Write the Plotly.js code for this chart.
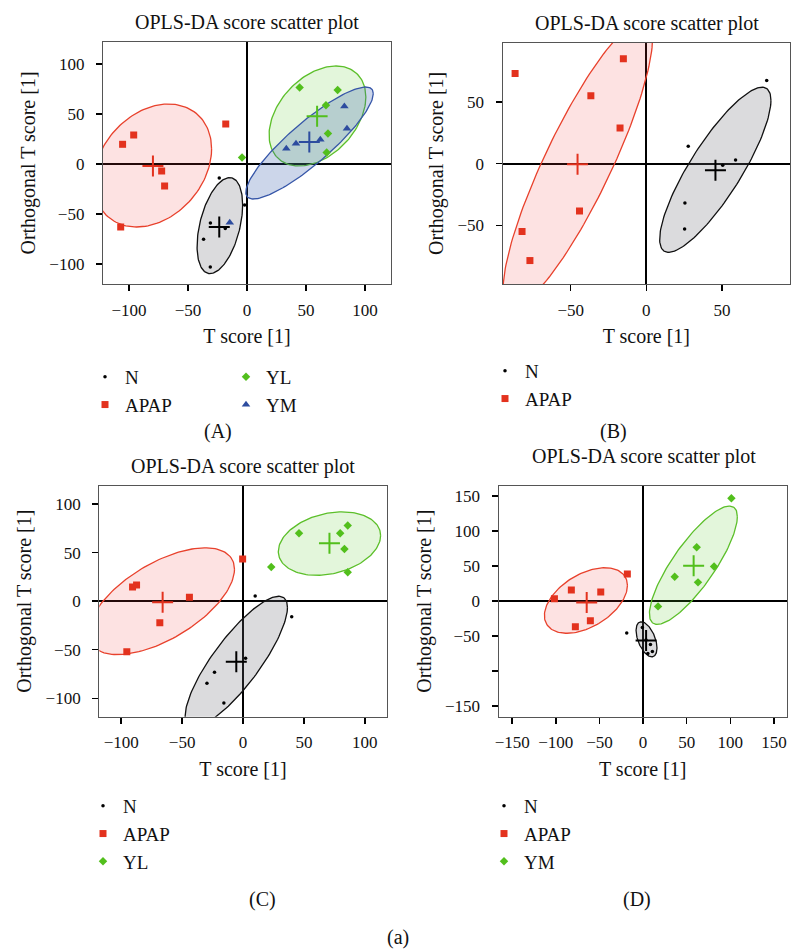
<!DOCTYPE html>
<html>
<head>
<meta charset="utf-8">
<script src="https://cdn.plot.ly/plotly-3.0.1.min.js"></script>
<style>html,body{margin:0;padding:0;background:#fff;}#chart{width:792px;height:951px;}</style>
</head>
<body>
<div id="chart"></div>
<script>
// ---------- DATA ----------
// Panel A
const A_N_x    = [-23.5, -2, -31, -18.4, -36.8, -31.1];
const A_N_y    = [-14, -41, -59, -64.6, -75.3, -103];
const A_APAP_x = [-105.4, -96, -72.3, -69.8, -18, -107];
const A_APAP_y = [19.7, 29, -7, -22, 40, -63];
const A_YL_x   = [-4.2, 44.6, 76.8, 66.9, 68.6, 67.5];
const A_YL_y   = [6.4, 76.4, 74, 58.7, 30.4, 11.4];
const A_YM_x   = [33.3, 41.5, 62.1, 82.5, 84.7, -14.6];
const A_YM_y   = [15.4, 20.4, 24.4, 57.7, 35.4, -58.6];
const A_centroid_x = [-23.5, -79.7, 59.4, 52.8];   // N, APAP, YL, YM
const A_centroid_y = [-63, -2, 47.8, 22];
// ellipse params: [centerX, centerY, halfWidthX, halfHeightY, correlation]
const A_ell_N    = [-23, -61.6, 19.3, 48, 0.43];
const A_ell_APAP = [-80, -1.5, 50, 61.5, 0.27];
const A_ell_YL   = [59.7, 48, 41, 50, 0.38];
const A_ell_YM   = [53, 21, 54, 56, 0.88];

// Panel B
const B_N_x    = [79.6, 27.7, 59, 50.5, 25.5, 25.3];
const B_N_y    = [67.3, 14, 3, -1.4, -32, -53];
const B_APAP_x = [-86.8, -15.2, -36.7, -17.4, -44.2, -82.2, -77];
const B_APAP_y = [73, 84.9, 54.9, 28.9, -38.4, -55, -78.6];
const B_centroid_x = [45.7, -45.5];   // N, APAP
const B_centroid_y = [-5.4, -0.5];
const B_ell_N    = [45.6, -5, 36.8, 66.9, 0.84];
const B_ell_APAP = [-45.3, 0, 49.4, 116.6, 0.87];

// Panel C
const C_N_x    = [10, 40, 2.1, -23.4, -29.6, -15.7];
const C_N_y    = [5.4, -16, -58.9, -73.3, -84.6, -104.8];
const C_APAP_x = [-90.7, -87.4, -44, -68.3, -95.4, -0.3];
const C_APAP_y = [14.7, 16.8, 4, -22.3, -52, 43.5];
const C_YL_x   = [46, 79.8, 86, 83.3, 86, 23.2];
const C_YL_y   = [70, 70, 78, 53.8, 29.8, 35.3];
const C_centroid_x = [-5.5, -66, 71];   // N, APAP, YL
const C_centroid_y = [-62.4, -1, 59.6];
const C_ell_N    = [-5.5, -62.3, 42, 67.4, 0.83];
const C_ell_APAP = [-67, 0, 60, 55, 0.6];
const C_ell_YL   = [71, 59.4, 42, 32.7, 0.25];

// Panel D
const D_N_x    = [-18.7, -0.8, 3.4, 8.5, 10.7, 5.5];
const D_N_y    = [-45.7, -37.6, -55.7, -62, -72, -75];
const D_APAP_x = [-101.6, -82.2, -48.5, -18, -60.4, -77.6];
const D_APAP_y = [3.3, 15.7, 12.9, 38.6, -28, -36.7];
const D_YM_x   = [101.3, 61.5, 36.3, 81.4, 63, 17.2];
const D_YM_y   = [147, 77, 34.8, 49.5, 26.7, -7.6];
const D_centroid_x = [3.5, -64.6, 58];   // N, APAP, YM
const D_centroid_y = [-56.5, -2, 50.5];
const D_ell_N    = [4, -54.6, 12, 25, -0.5];
const D_ell_APAP = [-65.5, 0.8, 47.6, 46.8, 0.46];
const D_ell_YM   = [57.7, 51.2, 50.4, 84.5, 0.82];

const D_yticks     = [150, 100, 50, 0, -50, -100, -150];
const D_yticktext  = ['150', '100', '50', '0', '\u221250', '', '\u2212150'];

// ---------- STYLES ----------
const FONT = 'Liberation Serif, Times New Roman, serif';
const RED = '#e3321e', GREEN = '#52bf1c', BLUE = '#2d4c9f', BLACK = '#000';
const ST = {
  N:    {sym: 'circle', size: 3.5, color: BLACK, line: '#111', fill: 'rgba(110,110,120,0.25)'},
  APAP: {sym: 'square', size: 7, color: RED, line: '#e8412c', fill: 'rgba(240,60,60,0.15)'},
  YL:   {sym: 'diamond', size: 6.5, color: GREEN, line: '#5cbf2a', fill: 'rgba(90,200,40,0.17)'},
  YM:   {sym: 'triangle-up', size: 7.5, color: BLUE, line: '#3656a8', fill: 'rgba(50,90,170,0.25)'}
};

function ellipse(p, n) {
  n = n || 160;
  const [cx, cy, sx, sy, r] = p;
  const k = Math.sqrt(1 - r * r);
  const xs = [], ys = [];
  for (let i = 0; i <= n; i++) {
    const t = 2 * Math.PI * i / n;
    xs.push(cx + sx * Math.cos(t));
    ys.push(cy + sy * (r * Math.cos(t) + k * Math.sin(t)));
  }
  return {xs, ys};
}

const traces = [];
function addEllipse(p, st, xa, ya) {
  const e = ellipse(p);
  traces.push({type: 'scatter', mode: 'lines', x: e.xs, y: e.ys, fill: 'toself',
    fillcolor: st.fill, line: {color: st.line, width: 1.3}, xaxis: xa, yaxis: ya,
    showlegend: false, hoverinfo: 'skip'});
}
function addPoints(name, xs, ys, st, xa, ya, legend, rank) {
  traces.push({type: 'scatter', mode: 'markers', name: name, x: xs, y: ys, xaxis: xa, yaxis: ya,
    marker: {symbol: st.sym, size: st.size, color: st.color, line: {width: 0}},
    legend: legend, legendrank: rank, showlegend: true, cliponaxis: true});
}
function addCentroids(xs, ys, colors, xa, ya) {
  for (let i = 0; i < xs.length; i++) {
    traces.push({type: 'scatter', mode: 'markers', x: [xs[i]], y: [ys[i]], xaxis: xa, yaxis: ya,
      marker: {symbol: 'cross-thin', size: 15, color: colors[i], line: {width: 2, color: colors[i]}},
      showlegend: false, hoverinfo: 'skip'});
  }
}

// Panel A
addEllipse(A_ell_APAP, ST.APAP, 'x', 'y');
addEllipse(A_ell_N, ST.N, 'x', 'y');
addEllipse(A_ell_YL, ST.YL, 'x', 'y');
addEllipse(A_ell_YM, ST.YM, 'x', 'y');
addPoints('N', A_N_x, A_N_y, ST.N, 'x', 'y', 'legend', 1);
addPoints('APAP', A_APAP_x, A_APAP_y, ST.APAP, 'x', 'y', 'legend', 2);
addPoints('YL', A_YL_x, A_YL_y, ST.YL, 'x', 'y', 'legend2', 1);
addPoints('YM', A_YM_x, A_YM_y, ST.YM, 'x', 'y', 'legend2', 2);
addCentroids(A_centroid_x, A_centroid_y, [BLACK, RED, GREEN, BLUE], 'x', 'y');

// Panel B
addEllipse(B_ell_APAP, ST.APAP, 'x2', 'y2');
addEllipse(B_ell_N, ST.N, 'x2', 'y2');
addPoints('N', B_N_x, B_N_y, ST.N, 'x2', 'y2', 'legend3', 1);
addPoints('APAP', B_APAP_x, B_APAP_y, ST.APAP, 'x2', 'y2', 'legend3', 2);
addCentroids(B_centroid_x, B_centroid_y, [BLACK, RED], 'x2', 'y2');

// Panel C
addEllipse(C_ell_APAP, ST.APAP, 'x3', 'y3');
addEllipse(C_ell_N, ST.N, 'x3', 'y3');
addEllipse(C_ell_YL, ST.YL, 'x3', 'y3');
addPoints('N', C_N_x, C_N_y, ST.N, 'x3', 'y3', 'legend4', 1);
addPoints('APAP', C_APAP_x, C_APAP_y, ST.APAP, 'x3', 'y3', 'legend4', 2);
addPoints('YL', C_YL_x, C_YL_y, ST.YL, 'x3', 'y3', 'legend4', 3);
addCentroids(C_centroid_x, C_centroid_y, [BLACK, RED, GREEN], 'x3', 'y3');

// Panel D
addEllipse(D_ell_APAP, ST.APAP, 'x4', 'y4');
addEllipse(D_ell_N, ST.N, 'x4', 'y4');
addEllipse(D_ell_YM, ST.YL, 'x4', 'y4');
addPoints('N', D_N_x, D_N_y, ST.N, 'x4', 'y4', 'legend5', 1);
addPoints('APAP', D_APAP_x, D_APAP_y, ST.APAP, 'x4', 'y4', 'legend5', 2);
addPoints('YM', D_YM_x, D_YM_y, ST.YL, 'x4', 'y4', 'legend5', 3);
addCentroids(D_centroid_x, D_centroid_y, [BLACK, RED, GREEN], 'x4', 'y4');

// ---------- LAYOUT ----------
const W = 792, H = 951;
const px = v => v / W, py = v => 1 - v / H;

function axis(domain, range, anchor, extra) {
  return Object.assign({
    domain: domain, range: range, anchor: anchor, autorange: false,
    showgrid: false, zeroline: true, zerolinecolor: '#000', zerolinewidth: 2,
    showline: true, mirror: true, linecolor: '#555', linewidth: 1.2,
    ticks: 'outside', ticklen: 6, tickwidth: 1.5, tickcolor: '#000',
    tickfont: {family: FONT, size: 17, color: '#111'}, fixedrange: true
  }, extra || {});
}
const xTitle = {text: 'T score [1]', font: {family: FONT, size: 20, color: '#111'}, standoff: 10};
const yTitle = {text: 'Orthogonal T score [1]', font: {family: FONT, size: 20, color: '#111'}, standoff: 8};

function legendAt(xLeft, yTop) {
  return {x: px(xLeft), y: py(yTop), xanchor: 'left', yanchor: 'top', orientation: 'v',
    bgcolor: 'rgba(0,0,0,0)', borderwidth: 0, font: {family: FONT, size: 19, color: '#111'},
    itemwidth: 30, tracegroupgap: 0, traceorder: 'normal'};
}
function label(text, x, y) {
  return {text: text, x: px(x), y: py(y), xref: 'paper', yref: 'paper', xanchor: 'center', yanchor: 'middle',
    showarrow: false, font: {family: FONT, size: 20, color: '#111'}};
}

const layout = {
  width: W, height: H, margin: {l: 0, r: 0, t: 0, b: 0},
  paper_bgcolor: '#fff', plot_bgcolor: '#fff',
  font: {family: FONT, color: '#111'},
  hovermode: false,
  xaxis:  axis([px(103), px(391)], [-122, 122], 'y', {tickvals: [-100, -50, 0, 50, 100], title: xTitle, ticklabelstandoff: 4}),
  yaxis:  axis([py(284), py(42)], [-120, 122], 'x', {tickvals: [-100, -50, 0, 50, 100], title: yTitle, ticklabelstandoff: 8}),
  xaxis2: axis([px(502.7), px(790)], [-95, 95], 'y2', {tickvals: [-50, 0, 50], title: xTitle, ticklabelstandoff: 4}),
  yaxis2: axis([py(284), py(42.7)], [-97.6, 98], 'x2', {tickvals: [-50, 0, 50], title: yTitle, ticklabelstandoff: 8}),
  xaxis3: axis([px(99.3), px(386.7)], [-118, 118], 'y3', {tickvals: [-100, -50, 0, 50, 100], title: xTitle, ticklabelstandoff: 4}),
  yaxis3: axis([py(716.7), py(485.7)], [-119, 119], 'x3', {tickvals: [-100, -50, 0, 50, 100], title: yTitle, ticklabelstandoff: 8}),
  xaxis4: axis([px(498.7), px(786.7)], [-165.5, 164.7], 'y4', {tickvals: [-150, -100, -50, 0, 50, 100, 150], title: xTitle, ticklabelstandoff: 4}),
  yaxis4: axis([py(716.7), py(485.7)], [-165.2, 164.8], 'x4', {tickvals: D_yticks, ticktext: D_yticktext, tickmode: 'array', title: yTitle, ticklabelstandoff: 8}),
  legend:  legendAt(85, 358),
  legend2: legendAt(226, 358),
  legend3: legendAt(485, 352),
  legend4: legendAt(83, 787),
  legend5: legendAt(484, 787),
  annotations: [
    label('OPLS-DA score scatter plot', 246.5, 23),
    label('OPLS-DA score scatter plot', 646.5, 24),
    label('OPLS-DA score scatter plot', 242.7, 466.7),
    label('OPLS-DA score scatter plot', 643.8, 456.7),
    label('(A)', 218, 431),
    label('(B)', 613, 431),
    label('(C)', 262, 899),
    label('(D)', 637, 899),
    label('(a)', 398, 937)
  ]
};

Plotly.newPlot('chart', traces, layout, {staticPlot: true, displayModeBar: false});
</script>
</body>
</html>
